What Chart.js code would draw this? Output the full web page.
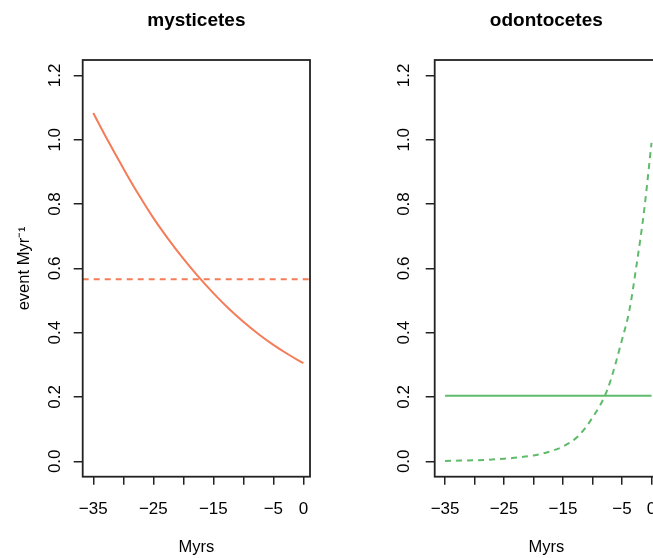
<!DOCTYPE html>
<html lang="en">
<head>
<meta charset="utf-8">
<title>Rates through time</title>
<script src="https://cdn.jsdelivr.net/npm/chart.js@4.4.0/dist/chart.umd.min.js"></script>
<style>
  html, body { margin: 0; padding: 0; background: #fff; overflow: hidden; }
  body { width: 653px; height: 558px; position: relative; }
  .panel { position: absolute; top: 0; width: 352px; height: 558px; }
  #p1 { left: 0; }
  #p2 { left: 352px; }
</style>
</head>
<body>
<div class="panel" id="p1"><canvas id="chart-1"></canvas></div>
<div class="panel" id="p2"><canvas id="chart-2"></canvas></div>

<script>
// values (Myrs, event per Myr)
var mystTime   = [-35, -32.5, -30, -27.5, -25, -22.5, -20, -17.5, -15, -12.5, -10, -7.5, -5, -2.5, 0];
var mystSolid  = [1.083, 0.995, 0.911, 0.831, 0.757, 0.691, 0.630, 0.574, 0.523, 0.476, 0.434, 0.396, 0.362, 0.332, 0.305];
var mystDashed = 0.566;

var odontTime   = [-35, -32.5, -30, -27.5, -25, -22.5, -20, -17.5, -15, -12.5, -10, -7.5, -5, -3.75, -2.5, -1.25, 0];
var odontDashed = [0.001, 0.002, 0.003, 0.005, 0.008, 0.012, 0.018, 0.029, 0.046, 0.077, 0.136, 0.222, 0.378, 0.47, 0.615, 0.78, 0.99];
var odontSolidTime = [-35, 0];
var odontSolid = 0.204;

var xTicks = [-35, -30, -25, -20, -15, -10, -5, 0];
var xTickLabels = ['\u221235', '', '\u221225', '', '\u221215', '', '\u22125', '0'];
var yTicks = [0, 0.2, 0.4, 0.6, 0.8, 1.0, 1.2];
var yTickLabels = ['0.0', '0.2', '0.4', '0.6', '0.8', '1.0', '1.2'];

var xMin = -36.76, xMax = 1.1;
var yMin = -0.048, yMax = 1.248;

var coral = '#f47c58';
var green = '#5fbb6b';

Chart.defaults.font.family = '"Liberation Sans", Arial, sans-serif';
Chart.defaults.color = '#000';

// R-like frame: box, title, rotated y labels, axis titles
var rFrame = {
  id: 'rFrame',
  afterDraw: function (chart) {
    var o = chart.options.plugins.rFrame;
    var ctx = chart.ctx, a = chart.chartArea, ys = chart.scales.y;
    ctx.save();
    ctx.strokeStyle = '#222';
    ctx.lineWidth = 1.8;
    ctx.strokeRect(a.left, a.top, a.right - a.left, a.bottom - a.top);

    ctx.fillStyle = '#000';
    ctx.textAlign = 'center';
    ctx.textBaseline = 'middle';
    ctx.font = 'bold 19px "Liberation Sans", Arial, sans-serif';
    ctx.fillText(o.title, (a.left + a.right) / 2, 21);

    ctx.font = '17px "Liberation Sans", Arial, sans-serif';
    yTicks.forEach(function (v, i) {
      ctx.save();
      ctx.translate(a.left - o.labelGap, ys.getPixelForValue(v));
      ctx.rotate(-Math.PI / 2);
      ctx.fillText(yTickLabels[i], 0, 0);
      ctx.restore();
    });

    ctx.font = '16.5px "Liberation Sans", Arial, sans-serif';
    ctx.fillText('Myrs', (a.left + a.right) / 2, 547);

    if (o.yTitle) {
      ctx.save();
      ctx.translate(24, (a.top + a.bottom) / 2);
      ctx.rotate(-Math.PI / 2);
      ctx.fillText(o.yTitle, 0, 0);
      ctx.restore();
    }
    ctx.restore();
  }
};

function makeChart(id, datasets, title, yTitle, padRight, labelGap) {
  return new Chart(document.getElementById(id), {
    type: 'line',
    data: { datasets: datasets },
    options: {
      responsive: true,
      maintainAspectRatio: false,
      animation: false,
      layout: { padding: { top: 60, left: 0, right: padRight, bottom: 0 } },
      plugins: {
        legend: { display: false },
        tooltip: { enabled: false },
        rFrame: { title: title, yTitle: yTitle, labelGap: labelGap }
      },
      elements: { point: { radius: 0 } },
      scales: {
        x: {
          type: 'linear',
          min: xMin, max: xMax,
          border: { display: false },
          grid: { drawOnChartArea: false, drawTicks: true, tickLength: 8, color: '#222', lineWidth: 1.5 },
          afterBuildTicks: function (s) { s.ticks = xTicks.map(function (v) { return { value: v }; }); },
          afterFit: function (s) { s.height = 81.3; },
          ticks: {
            autoSkip: false, maxRotation: 0, padding: 14,
            font: { size: 17 },
            color: '#000',
            callback: function (v) { return xTickLabels[xTicks.indexOf(v)]; }
          }
        },
        y: {
          type: 'linear',
          min: yMin, max: yMax,
          border: { display: false },
          grid: { drawOnChartArea: false, drawTicks: true, tickLength: 9, color: '#222', lineWidth: 1.5 },
          afterBuildTicks: function (s) { s.ticks = yTicks.map(function (v) { return { value: v }; }); },
          afterFit: function (s) { s.width = 82.7; },
          ticks: { display: false }
        }
      }
    },
    plugins: [rFrame]
  });
}

function pts(xs, ys) {
  return xs.map(function (x, i) { return { x: x, y: ys[i] }; });
}
function flat(xs, v) {
  return xs.map(function (x) { return { x: x, y: v }; });
}

makeChart('chart-1', [
  { data: pts(mystTime, mystSolid), borderColor: coral, borderWidth: 2, tension: 0.4 },
  { data: flat([xMin, xMax], mystDashed), borderColor: coral, borderWidth: 2, borderDash: [6, 5] }
], 'mysticetes', 'event Myr\u207B\u00B9', 42, 27);

makeChart('chart-2', [
  { data: flat(odontSolidTime, odontSolid), borderColor: green, borderWidth: 2 },
  { data: pts(odontTime, odontDashed), borderColor: green, borderWidth: 2, borderDash: [6, 5], cubicInterpolationMode: 'monotone' }
], 'odontocetes', null, 46, 30);
</script>
</body>
</html>
